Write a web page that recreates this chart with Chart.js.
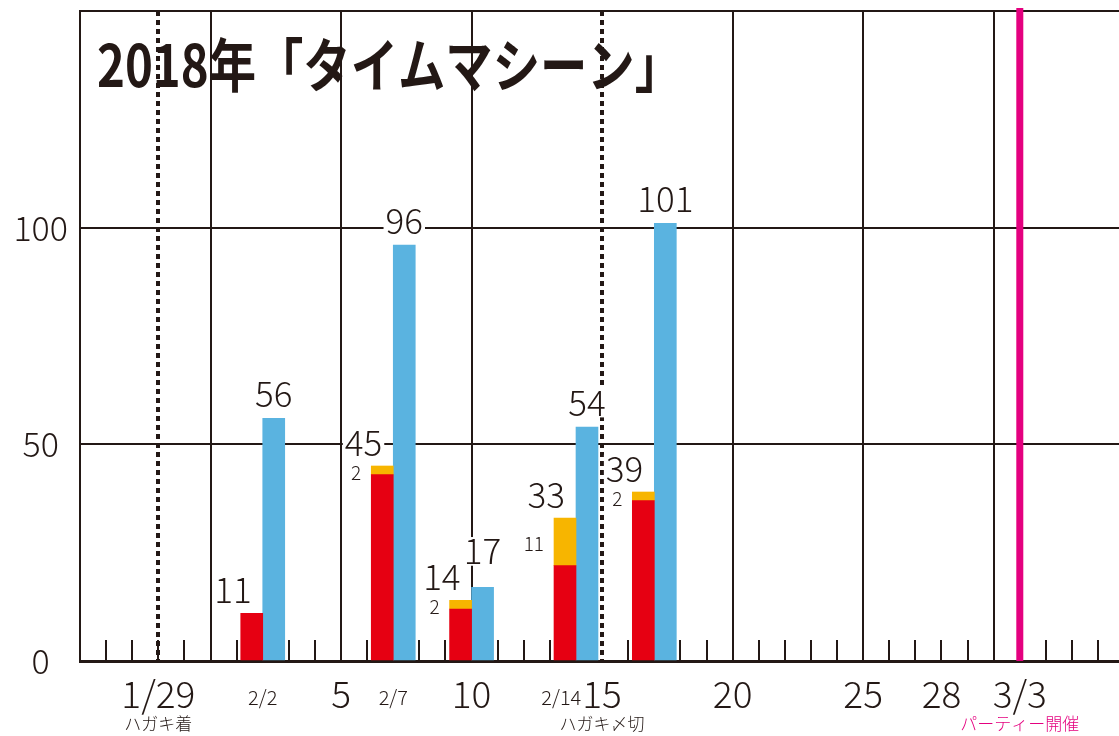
<!DOCTYPE html>
<html>
<head>
<meta charset="utf-8">
<script src="https://cdn.jsdelivr.net/npm/chart.js@4/dist/chart.umd.min.js"></script>
<style>
  html, body { margin: 0; padding: 0; background: #fff; }
  #wrap { width: 1119px; height: 736px; }
</style>
</head>
<body>
<div id="wrap"><canvas id="chart" width="1119" height="736"></canvas></div>
<script>
// chart data (x = day of February, so 1/29 = -2 and 3/3 = 31)
const chartTitle = '2018年「タイムマシーン」';
const barDays = [2, 7, 10, 14, 17];
const redValues = [11, 43, 12, 22, 37];
const yellowValues = [null, 2, 2, 11, 2];
const blueValues = [56, 96, 17, 54, 101];
const yTickValues = [0, 50, 100];

const bigTickDays = [-2, 5, 10, 15, 20, 25, 28, 31];
const bigTickLabels = ['1/29', '5', '10', '15', '20', '25', '28', '3/3'];
const smallTickDays = [2, 7, 14];
const smallTickLabels = ['2/2', '2/7', '2/14'];
const noteDays = [-2, 15, 31];
const noteLabels = ['ハガキ着', 'ハガキ〆切', 'パーティー開催'];
const dottedDays = [-2, 15];
const partyDay = 31;

const INK = '#231815';
const RED = '#e60012';
const YELLOW = '#f7b500';
const BLUE = '#5ab3e0';
const PINK = '#e4007f';
const FONT = "'Noto Sans CJK JP', 'Noto Sans', sans-serif";

function textWithBg(ctx, text, x, y, align, size) {
  const w = ctx.measureText(text).width;
  const left = align === 'right' ? x - w : align === 'center' ? x - w / 2 : x;
  ctx.fillStyle = '#fff';
  ctx.fillRect(left - 2, y - size * 0.78, w + 4, size * 0.82);
  ctx.fillStyle = INK;
  ctx.textAlign = align;
  ctx.fillText(text, x, y);
}

const decor = {
  id: 'decor',
  beforeDatasetsDraw(chart) {
    const { ctx, chartArea: a, scales: { x } } = chart;
    ctx.save();
    ctx.strokeStyle = INK;
    ctx.lineWidth = 2;
    // top frame line
    ctx.beginPath();
    ctx.moveTo(a.left, a.top);
    ctx.lineTo(a.right, a.top);
    ctx.stroke();
    // one small tick per day
    for (let d = Math.ceil(x.min); d <= x.max; d++) {
      if (d % 5 === 0) continue;
      const px = Math.round(x.getPixelForValue(d));
      ctx.beginPath();
      ctx.moveTo(px, a.bottom);
      ctx.lineTo(px, a.bottom - 21);
      ctx.stroke();
    }
    // dotted event lines
    ctx.lineWidth = 4;
    ctx.setLineDash([5, 4]);
    dottedDays.forEach(d => {
      const px = Math.round(x.getPixelForValue(d));
      ctx.beginPath();
      ctx.moveTo(px, a.top);
      ctx.lineTo(px, a.bottom);
      ctx.stroke();
    });
    ctx.setLineDash([]);
    // party day
    ctx.strokeStyle = PINK;
    ctx.lineWidth = 7;
    const pp = x.getPixelForValue(partyDay);
    ctx.beginPath();
    ctx.moveTo(pp, a.top - 3);
    ctx.lineTo(pp, a.bottom);
    ctx.stroke();
    ctx.restore();
  },
  afterDatasetsDraw(chart) {
    const { ctx } = chart;
    const red = chart.getDatasetMeta(0).data;
    const yel = chart.getDatasetMeta(1).data;
    const blue = chart.getDatasetMeta(2).data;
    ctx.save();
    ctx.textBaseline = 'alphabetic';
    barDays.forEach((d, i) => {
      const r = red[i], y = yel[i], b = blue[i];
      const hasYellow = yellowValues[i] != null && yellowValues[i] > 0;
      const top = hasYellow ? y.y : r.y;
      const total = redValues[i] + (hasYellow ? yellowValues[i] : 0);
      ctx.font = `300 35px ${FONT}`;
      const totalY = top - 10;
      let blueY = b.y - 11;
      // lift the blue value when it would sit right beside the total
      if (Math.abs(blueY - totalY) < 20) blueY = Math.min(blueY, totalY - 26);
      textWithBg(ctx, String(total), r.x, totalY, 'right', 35);
      textWithBg(ctx, String(blueValues[i]), b.x, blueY, 'center', 35);
      if (hasYellow) {
        ctx.font = `300 19px ${FONT}`;
        ctx.fillStyle = INK;
        ctx.textAlign = 'right';
        ctx.textBaseline = 'middle';
        ctx.fillText(String(yellowValues[i]), r.x - r.width / 2 - 10, (y.y + y.base) / 2 + 2);
        ctx.textBaseline = 'alphabetic';
      }
    });
    ctx.restore();
  },
  afterDraw(chart) {
    const { ctx, chartArea: a, scales: { x } } = chart;
    ctx.save();
    ctx.textBaseline = 'middle';
    ctx.fillStyle = INK;
    // big day labels
    ctx.font = `300 37px ${FONT}`;
    const bigBoxes = bigTickDays.map((d, i) => {
      const px = x.getPixelForValue(d);
      const w = ctx.measureText(bigTickLabels[i]).width;
      ctx.textAlign = 'center';
      ctx.fillText(bigTickLabels[i], px, a.bottom + 33);
      return [px - w / 2, px + w / 2];
    });
    // small date labels, pushed left if they hit a big label
    ctx.font = `300 20px ${FONT}`;
    smallTickDays.forEach((d, i) => {
      const px = x.getPixelForValue(d);
      const w = ctx.measureText(smallTickLabels[i]).width;
      let right = px + w / 2;
      bigBoxes.forEach(([l, r]) => {
        if (right > l && px - w / 2 < r) right = l - 1;
      });
      ctx.textAlign = 'right';
      ctx.fillText(smallTickLabels[i], right, a.bottom + 36);
    });
    // notes
    ctx.font = `300 17px ${FONT}`;
    ctx.textAlign = 'center';
    noteDays.forEach((d, i) => {
      ctx.fillStyle = d === partyDay ? PINK : INK;
      ctx.fillText(noteLabels[i], x.getPixelForValue(d), a.bottom + 63);
    });
    // title
    ctx.fillStyle = INK;
    ctx.font = `bold 58px ${FONT}`;
    ctx.textAlign = 'left';
    ctx.textBaseline = 'alphabetic';
    const tw = ctx.measureText(chartTitle).width;
    ctx.translate(97, 87);
    ctx.scale(Math.min(1, 585 / tw), 1);
    ctx.fillText(chartTitle, 0, 0);
    ctx.restore();
  }
};

new Chart(document.getElementById('chart'), {
  type: 'bar',
  data: {
    datasets: [
      { label: 'red', data: barDays.map((d, i) => ({ x: d, y: redValues[i] })), backgroundColor: RED, stack: 'a' },
      { label: 'yellow', data: barDays.map((d, i) => ({ x: d, y: yellowValues[i] })), backgroundColor: YELLOW, stack: 'a' },
      { label: 'blue', data: barDays.map((d, i) => ({ x: d, y: blueValues[i] })), backgroundColor: BLUE, stack: 'b' }
    ]
  },
  options: {
    responsive: false,
    animation: false,
    devicePixelRatio: 1,
    layout: { padding: { top: 11, right: 0, left: 0, bottom: 0 } },
    datasets: { bar: { barThickness: 22, borderWidth: 0 } },
    plugins: { legend: { display: false }, tooltip: { enabled: false } },
    scales: {
      x: {
        type: 'linear',
        min: -5,
        max: 34.8,
        offset: false,
        afterBuildTicks: scale => {
          const t = [];
          for (let d = -5; d <= 34; d++) t.push({ value: d });
          scale.ticks = t;
        },
        afterFit: scale => { scale.height = 75; scale.paddingLeft = 0; scale.paddingRight = 0; },
        ticks: { display: false },
        grid: {
          offset: false,
          drawTicks: false,
          lineWidth: 2,
          color: c => (c.tick && c.tick.value % 5 === 0 && c.tick.value !== 15 && c.tick.value !== -5) ? INK : 'rgba(0,0,0,0)'
        },
        border: { color: INK, width: 3 }
      },
      y: {
        min: 0,
        max: 150,
        stacked: true,
        afterBuildTicks: scale => { scale.ticks = yTickValues.map(v => ({ value: v })); },
        afterFit: scale => { scale.width = 80; scale.paddingTop = 0; scale.paddingBottom = 0; },
        ticks: {
          crossAlign: 'center',
          padding: 12,
          color: INK,
          font: { family: FONT, size: 34, weight: 300 }
        },
        grid: {
          drawTicks: false,
          lineWidth: 2,
          color: c => (c.tick && c.tick.value > 0) ? INK : 'rgba(0,0,0,0)'
        },
        border: { color: INK, width: 2 }
      }
    }
  },
  plugins: [decor]
});
</script>
</body>
</html>
